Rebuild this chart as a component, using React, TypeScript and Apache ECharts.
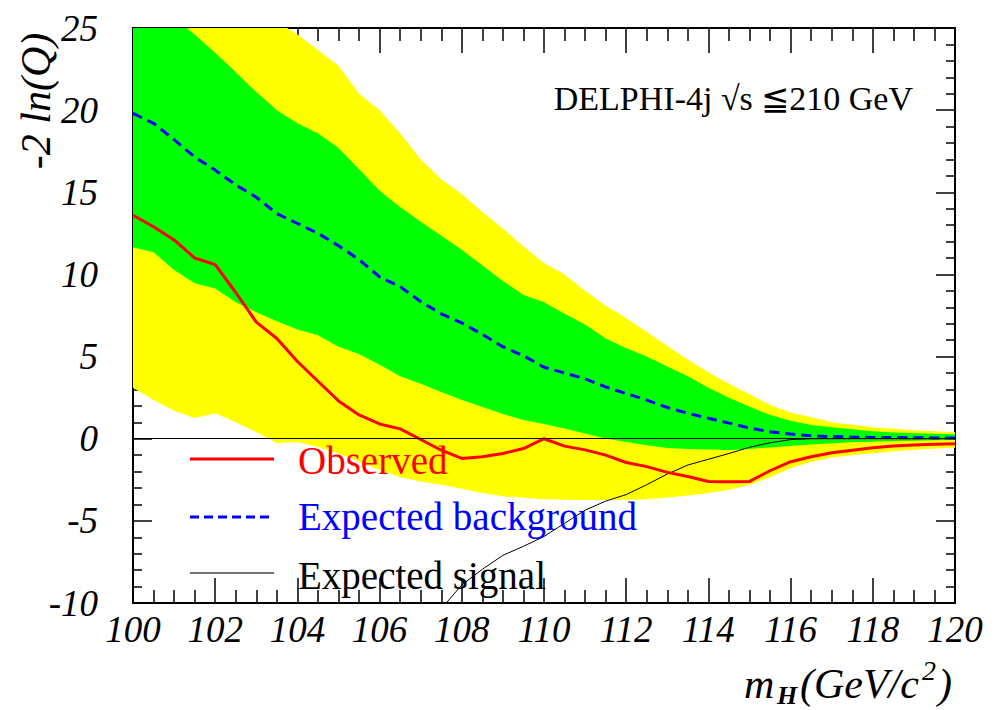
import React, { useEffect, useRef } from 'react';
import * as echarts from 'echarts';

const FONT = '"Liberation Serif", "Times New Roman", serif';

// Higgs mass grid (GeV/c^2)
const xs = [100, 100.5, 101, 101.5, 102, 102.5, 103, 103.5, 104, 104.5, 105, 105.5, 106, 106.5, 107, 107.5, 108, 108.5, 109, 109.5, 110, 110.5, 111, 111.5, 112, 112.5, 113, 113.5, 114, 114.5, 115, 115.5, 116, 116.5, 117, 117.5, 118, 118.5, 119, 119.5, 120];
// 2 sigma band (yellow)
const yellowUpper = [32, 31, 30, 29, 28, 27.2, 26.3, 25.4, 24.6, 23.66, 22.7, 21.0, 20.0, 18.6, 17.0, 15.8, 14.9, 13.8, 12.8, 11.7, 10.7, 10.0, 9.0, 8.1, 7.35, 6.5, 5.65, 4.8, 4.05, 3.35, 2.7, 2.05, 1.6, 1.3, 1.0, 0.85, 0.7, 0.6, 0.52, 0.45, 0.4];
const yellowLower = [3.1, 2.36, 1.7, 1.26, 1.55, 1.0, 0.4, -0.26, -0.2, -0.5, -0.9, -1.4, -1.9, -2.35, -2.6, -2.8, -3.05, -3.3, -3.5, -3.6, -3.68, -3.72, -3.73, -3.73, -3.72, -3.68, -3.58, -3.45, -3.3, -3.1, -2.8, -2.35, -1.8, -1.4, -1.15, -1.0, -0.88, -0.76, -0.67, -0.6, -0.55];
// 1 sigma band (green)
const greenUpper = [27.8, 26.9, 25.6, 24.6, 23.5, 22.3, 21.1, 20.0, 19.2, 18.6, 17.7, 16.4, 15.1, 14.1, 13.2, 12.35, 11.5, 10.55, 9.6, 8.75, 8.3, 7.6, 6.95, 6.1, 5.5, 5.0, 4.4, 3.8, 3.1, 2.5, 1.95, 1.45, 1.1, 0.84, 0.7, 0.58, 0.45, 0.38, 0.33, 0.3, 0.27];
const greenLower = [11.65, 11.35, 10.27, 9.47, 9.15, 8.3, 7.7, 7.15, 6.65, 6.3, 5.6, 5.15, 4.5, 3.8, 3.35, 2.85, 2.35, 1.93, 1.5, 1.14, 0.9, 0.62, 0.32, 0.02, -0.2, -0.4, -0.56, -0.62, -0.66, -0.68, -0.62, -0.53, -0.45, -0.35, -0.27, -0.22, -0.18, -0.14, -0.12, -0.1, -0.08];
// Expected background
const expectedBkg = [19.8, 19.2, 18.2, 17.15, 16.35, 15.45, 14.7, 13.7, 13.1, 12.5, 11.75, 10.9, 9.85, 9.25, 8.35, 7.6, 7.05, 6.35, 5.6, 5.05, 4.35, 4.0, 3.65, 3.15, 2.75, 2.35, 1.9, 1.55, 1.25, 0.95, 0.65, 0.42, 0.28, 0.18, 0.13, 0.1, 0.08, 0.07, 0.06, 0.05, 0.05];
// Observed
const observed = [13.6, 12.9, 12.1, 11.0, 10.6, 8.9, 7.1, 6.1, 4.7, 3.5, 2.3, 1.45, 0.9, 0.6, -0.05, -0.7, -1.2, -1.1, -0.9, -0.6, 0.0, -0.45, -0.68, -1.0, -1.45, -1.7, -2.05, -2.3, -2.6, -2.62, -2.6, -1.95, -1.4, -1.1, -0.85, -0.7, -0.55, -0.45, -0.38, -0.33, -0.3];
// Expected signal
const sigX = [107, 107.5, 108, 108.5, 109, 109.5, 110, 110.5, 111, 111.5, 112, 112.5, 113, 113.5, 114, 114.5, 115, 115.5, 116, 116.5, 117, 117.5, 118, 118.5, 119, 119.5, 120];
const expectedSig = [-11.8, -10.35, -8.9, -7.95, -7.1, -6.55, -5.95, -5.15, -4.35, -3.8, -3.4, -2.8, -2.15, -1.6, -1.25, -0.9, -0.52, -0.25, -0.05, 0, 0, 0, 0, 0, 0, 0, 0];

const legendNames = ['Observed', 'Expected background', 'Expected signal'];
const header = 'DELPHI-4j \u221As \u2266210 GeV';

export default function App() {
  const ref = useRef<HTMLDivElement>(null);
  useEffect(() => {
    document.body.style.margin = '0';
    const chart = echarts.init(ref.current!, null, { renderer: 'svg' });

    const band = (upper: number[], lower: number[], color: string) => ({
      type: 'custom',
      clip: true,
      silent: true,
      z: 1,
      data: xs.map((x, i) => [x, upper[i], lower[i]]),
      encode: { x: 0, y: [1, 2] },
      renderItem: (params: any, api: any) => {
        if (params.dataIndex !== 0) return null;
        const pts: number[][] = [];
        for (let i = 0; i < xs.length; i++) pts.push(api.coord([xs[i], upper[i]]));
        for (let i = xs.length - 1; i >= 0; i--) pts.push(api.coord([xs[i], lower[i]]));
        return { type: 'polygon', shape: { points: pts }, style: { fill: color, stroke: null } };
      },
    });

    const xBase = (pos: 'bottom' | 'top', labels: boolean) => ({
      type: 'value', min: 100, max: 120, interval: 2, position: pos,
      axisLine: { show: true, onZero: false, lineStyle: { color: '#000', width: 2 } },
      axisTick: { show: true, inside: true, length: 25, lineStyle: { color: '#000', width: 1.5 } },
      minorTick: { show: true, splitNumber: 4, length: 13, lineStyle: { color: '#000', width: 1.5 } },
      splitLine: { show: false },
      minorSplitLine: { show: false },
      axisLabel: { show: labels, fontFamily: FONT, fontStyle: 'italic', fontSize: 37, color: '#000', margin: 8 },
    });
    const yBase = (pos: 'left' | 'right', labels: boolean) => ({
      type: 'value', min: -10, max: 25, interval: 5, position: pos,
      axisLine: { show: true, onZero: false, lineStyle: { color: '#000', width: 2 } },
      axisTick: { show: true, inside: true, length: 19, lineStyle: { color: '#000', width: 1.5 } },
      minorTick: { show: true, splitNumber: 5, length: 9, lineStyle: { color: '#000', width: 1.5 } },
      splitLine: { show: false },
      minorSplitLine: { show: false },
      axisLabel: { show: labels, fontFamily: FONT, fontStyle: 'italic', fontSize: 37, color: '#000', margin: 35 },
    });

    const lx0 = 190, lx1 = 274, tx = 298;
    const Z = 100;
    const option: any = {
      animation: false,
      backgroundColor: '#fff',
      grid: { left: 133, right: 53, top: 28, bottom: 107 },
      xAxis: [xBase('bottom', true), xBase('top', false)],
      yAxis: [yBase('left', true), yBase('right', false)],
      series: [
        band(yellowUpper, yellowLower, '#ffff00'),
        band(greenUpper, greenLower, '#00ff00'),
        {
          type: 'line', name: 'zero', data: [], silent: true, z: 2,
          markLine: {
            silent: true, symbol: 'none', label: { show: false },
            lineStyle: { color: '#000', width: 1, type: 'solid' },
            data: [{ yAxis: 0 }],
          },
        },
        {
          type: 'line', name: legendNames[1], showSymbol: false, silent: true, z: 3,
          data: xs.map((x, i) => [x, expectedBkg[i]]),
          lineStyle: { color: '#0000ff', width: 3, type: [10, 6] },
        },
        {
          type: 'line', name: legendNames[2], showSymbol: false, silent: true, z: 3,
          data: sigX.map((x, i) => [x, expectedSig[i]]),
          lineStyle: { color: '#000', width: 1 },
        },
        {
          type: 'line', name: legendNames[0], showSymbol: false, silent: true, z: 4,
          data: xs.map((x, i) => [x, observed[i]]),
          lineStyle: { color: '#ff0000', width: 3 },
        },
      ],
      graphic: [
        { type: 'line', z: Z, shape: { x1: lx0, y1: 459, x2: lx1, y2: 459 }, style: { stroke: '#ff0000', lineWidth: 3 } },
        { type: 'line', z: Z, shape: { x1: lx0, y1: 517, x2: 270, y2: 517 }, style: { stroke: '#0000ff', lineWidth: 3, lineDash: [9, 5] } },
        { type: 'line', z: Z, shape: { x1: lx0, y1: 573, x2: lx1, y2: 573 }, style: { stroke: '#444', lineWidth: 1.5 } },
        { type: 'text', z: Z, x: tx, y: 460, style: { text: legendNames[0], fill: '#ff0000', font: `39px ${FONT}`, verticalAlign: 'middle', align: 'left' } },
        { type: 'text', z: Z, x: tx, y: 516, style: { text: legendNames[1], fill: '#0000ff', font: `39px ${FONT}`, verticalAlign: 'middle', align: 'left' } },
        { type: 'text', z: Z, x: tx, y: 575, style: { text: legendNames[2], fill: '#000', font: `39px ${FONT}`, verticalAlign: 'middle', align: 'left' } },
        { type: 'text', z: Z, x: 913, y: 98, style: { text: header, fill: '#000', font: `34px ${FONT}`, verticalAlign: 'middle', align: 'right' } },
        { type: 'text', z: Z, x: 36, y: 101, rotation: Math.PI / 2, style: { text: '-2 ln(Q)', fill: '#000', font: `italic 42px ${FONT}`, verticalAlign: 'middle', align: 'center' } },
        { type: 'text', z: Z, x: 744, y: 684, style: { text: 'm', fill: '#000', font: `italic 42px ${FONT}`, verticalAlign: 'middle', align: 'left' } },
        { type: 'text', z: Z, x: 777, y: 695, style: { text: 'H', fill: '#000', font: `italic bold 26px ${FONT}`, verticalAlign: 'middle', align: 'left' } },
        { type: 'text', z: Z, x: 800, y: 684, style: { text: '(GeV/c', fill: '#000', font: `italic 42px ${FONT}`, verticalAlign: 'middle', align: 'left' } },
        { type: 'text', z: Z, x: 922, y: 670, style: { text: '2', fill: '#000', font: `italic 28px ${FONT}`, verticalAlign: 'middle', align: 'left' } },
        { type: 'text', z: Z, x: 938, y: 684, style: { text: ')', fill: '#000', font: `italic 42px ${FONT}`, verticalAlign: 'middle', align: 'left' } },
      ],
    };
    chart.setOption(option);
    return () => chart.dispose();
  }, []);
  return <div ref={ref} style={{ position: 'absolute', left: 0, top: 0, width: 1008, height: 710 }} />;
}
